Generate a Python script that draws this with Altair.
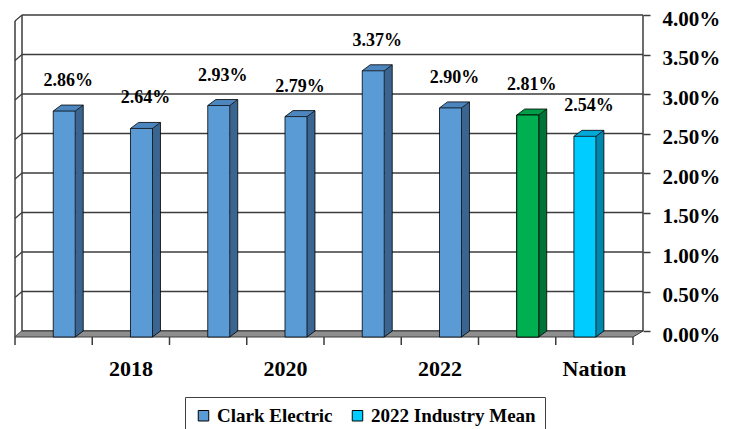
import altair as alt
import pandas as pd

# ---------------- data ----------------
categories = ["2017", "2018", "2019", "2020", "2021", "2022", "Peer", "Nation"]
series = ["Clark Electric"] * 7 + ["2022 Industry Mean"]
values = [2.86, 2.64, 2.93, 2.79, 3.37, 2.90, 2.81, 2.54]
legend_series = ["Clark Electric", "2022 Industry Mean"]
y_ticks = [0.0, 0.5, 1.0, 1.5, 2.0, 2.5, 3.0, 3.5, 4.0]

# ---------------- geometry / style ----------------
W, H = 628, 322
CAT_PX = 77.25
X_MAX = W / CAT_PX
Y_TOP = max(y_ticks)
PX_Y = 79.0
DY = H / PX_Y - Y_TOP          # 3D depth (vertical) in data units
DXB = 8 / CAT_PX               # bar depth (horizontal)
DXL = 7 / CAT_PX               # left wall depth
FACE_W = 22 / CAT_PX
SLOT = {"Clark Electric": 0.495, "2022 Industry Mean": 0.235}
FONT = "Liberation Serif"
LINE = "#3c3c3c"

TONES = {
    "blue": ("#5B9BD5", "#3A6591", "#4D86BE"),
    "green": ("#00B050", "#007438", "#009E48"),
    "cyan": ("#00CCFF", "#0087AE", "#00A9D8"),
}


def tone_of(cat, ser):
    if ser == "2022 Industry Mean":
        return "cyan"
    if cat == "Peer":
        return "green"
    return "blue"


bar_rows, side_rows, top_rows, edge_rows = [], [], [], []
for i, (c, s, v) in enumerate(zip(categories, series, values)):
    xl = i + SLOT[s]
    xr = xl + FACE_W
    t = tone_of(c, s)
    bar_rows.append(dict(idx=i, category=c, series=s, value=v, xl=xl, xr=xr,
                         xc=(xl + xr + DXB) / 2, yf=v - DY, y0=-DY, tone=t))
    side_rows += [
        dict(bar=i, x=xr, y=v - DY, y2=-DY, color=TONES[t][1]),
        dict(bar=i, x=xr + DXB, y=v, y2=0.0, color=TONES[t][1]),
    ]
    top_rows += [
        dict(bar=i, x=xl, y=v - DY, y2=v - DY, color=TONES[t][2]),
        dict(bar=i, x=xl + DXB, y=v, y2=v - DY, color=TONES[t][2]),
        dict(bar=i, x=xr, y=v, y2=v - DY, color=TONES[t][2]),
        dict(bar=i, x=xr + DXB, y=v, y2=v, color=TONES[t][2]),
    ]
    edge_rows += [
        dict(x=xl, y=v - DY, x2=xl + DXB, y2=v),
        dict(x=xl + DXB, y=v, x2=xr + DXB, y2=v),
        dict(x=xr, y=v - DY, x2=xr + DXB, y2=v),
        dict(x=xr + DXB, y=v, x2=xr + DXB, y2=0.0),
        dict(x=xr, y=-DY, x2=xr + DXB, y2=0.0),
    ]

bars = pd.DataFrame(bar_rows)
sides = pd.DataFrame(side_rows)
tops = pd.DataFrame(top_rows)
edges = pd.DataFrame(edge_rows)

n = float(len(categories))
floor = pd.DataFrame(dict(
    x=[0.0, DXL, n, X_MAX],
    y=[-DY, 0.0, 0.0, 0.0],
    y2=[-DY, -DY, -DY, 0.0],
))
floor_edges = pd.DataFrame(dict(
    x=[0.0, DXL, n],
    y=[-DY, 0.0, -DY],
    x2=[n, X_MAX, X_MAX],
    y2=[-DY, 0.0, 0.0],
))

grid = pd.DataFrame(dict(t=y_ticks))
grid["x"] = DXL
grid["x2"] = X_MAX
grid["sx"] = 0.0
grid["sy"] = grid["t"] - DY

walls = pd.DataFrame(dict(
    x=[0.0, DXL, X_MAX],
    y=[-DY, 0.0, 0.0],
    y2=[Y_TOP - DY, Y_TOP, Y_TOP],
))

xticks = pd.DataFrame(dict(x=list(range(len(categories) + 1))))
cats = pd.DataFrame(dict(idx=list(range(len(categories))), category=categories))
cats["xc"] = cats["idx"] + 0.5

xs = alt.Scale(domain=[0, X_MAX], nice=False, zero=False)
ys = alt.Scale(domain=[-DY, Y_TOP], nice=False, zero=False)
YAX = alt.Axis(
    orient="right", values=y_ticks, domain=False, grid=False,
    tickSize=7, tickWidth=1.5, tickColor=LINE, labelPadding=12,
    labelOffset=4,
    labelFont=FONT, labelFontSize=21, labelFontWeight="bold",
    labelColor="black", title=None,
    labelExpr="format(datum.value, '.2f') + '%'")


def X(f):
    return alt.X(f, type="quantitative", scale=xs, axis=None)


def Y(f):
    return alt.Y(f, type="quantitative", scale=ys, axis=YAX)


grid_h = alt.Chart(grid).mark_rule(color=LINE, strokeWidth=1.5).encode(
    x=X("x"), x2="x2", y=Y("t"))
grid_s = alt.Chart(grid).mark_rule(color=LINE, strokeWidth=1.2).encode(
    x=X("sx"), x2="x", y=Y("sy"), y2="t")
wall = alt.Chart(walls).mark_rule(color=LINE, strokeWidth=1.5).encode(
    x=X("x"), y=Y("y"), y2="y2")

floor_l = alt.Chart(floor).mark_area(
    color="#8E8E8E", opacity=1, interpolate="linear"
).encode(x=X("x"), y=Y("y"), y2="y2")
floor_e = alt.Chart(floor_edges).mark_rule(color=LINE, strokeWidth=1).encode(
    x=X("x"), x2="x2", y=Y("y"), y2="y2")

tick_l = alt.Chart(xticks).mark_rule(color=LINE, strokeWidth=1.5).encode(
    x=X("x"), y=alt.value(H), y2=alt.value(H + 8))

side_l = alt.Chart(sides).mark_area(opacity=1, interpolate="linear").encode(
    x=X("x"), y=Y("y"), y2="y2", detail="bar:N",
    color=alt.Color("color:N", scale=None, legend=None))
top_l = alt.Chart(tops).mark_area(opacity=1, interpolate="linear").encode(
    x=X("x"), y=Y("y"), y2="y2", detail="bar:N",
    color=alt.Color("color:N", scale=None, legend=None))
edge_l = alt.Chart(edges).mark_rule(color="black", strokeWidth=0.8).encode(
    x=X("x"), x2="x2", y=Y("y"), y2="y2")

front_l = alt.Chart(bars).mark_rect(stroke="black", strokeWidth=0.8).encode(
    x=X("xl"), x2="xr", y=Y("y0"), y2="yf",
    fill=alt.Fill(
        "series:N",
        scale=alt.Scale(domain=legend_series,
                        range=[TONES["blue"][0], TONES["cyan"][0]]),
        legend=alt.Legend(
            orient="none", legendX=170, legendY=382,
            direction="horizontal", title=None,
            symbolType="square", symbolSize=110,
            symbolStrokeColor="black", symbolStrokeWidth=1,
            labelFont=FONT, labelFontSize=19, labelFontWeight="bold",
            labelColor="black", labelOffset=4, columnPadding=15,
            padding=9, strokeColor="#404040", fillColor="white",
            labelLimit=300)),
)
green_l = alt.Chart(bars).transform_filter("datum.tone === 'green'").mark_rect(
    stroke="black", strokeWidth=0.8, fill=TONES["green"][0]
).encode(x=X("xl"), x2="xr", y=Y("y0"), y2="yf")

value_l = alt.Chart(bars).mark_text(
    font=FONT, fontSize=18, fontWeight="bold", color="black",
    baseline="alphabetic", dy=-19
).transform_calculate(
    lab="format(datum.value, '.2f') + '%'"
).encode(x=X("xc"), y=Y("value"), text="lab:N")

cat_l = alt.Chart(cats).transform_filter(
    "datum.idx % 2 === 1"
).mark_text(
    font=FONT, fontSize=22, fontWeight="bold", color="black",
    baseline="alphabetic"
).encode(x=X("xc"), y=alt.value(361), text="category:N")

chart = alt.layer(
    grid_h, grid_s, wall, floor_l, floor_e, tick_l,
    side_l, top_l, front_l, green_l, edge_l, value_l, cat_l
).properties(
    width=W, height=H,
    padding={"left": 7, "top": 7, "right": 91, "bottom": 92},
    autosize=alt.AutoSizeParams(type="none"),
    background="white",
).configure_view(stroke=None)

chart.save("out.html", embed_options={"renderer": "svg", "actions": False})
